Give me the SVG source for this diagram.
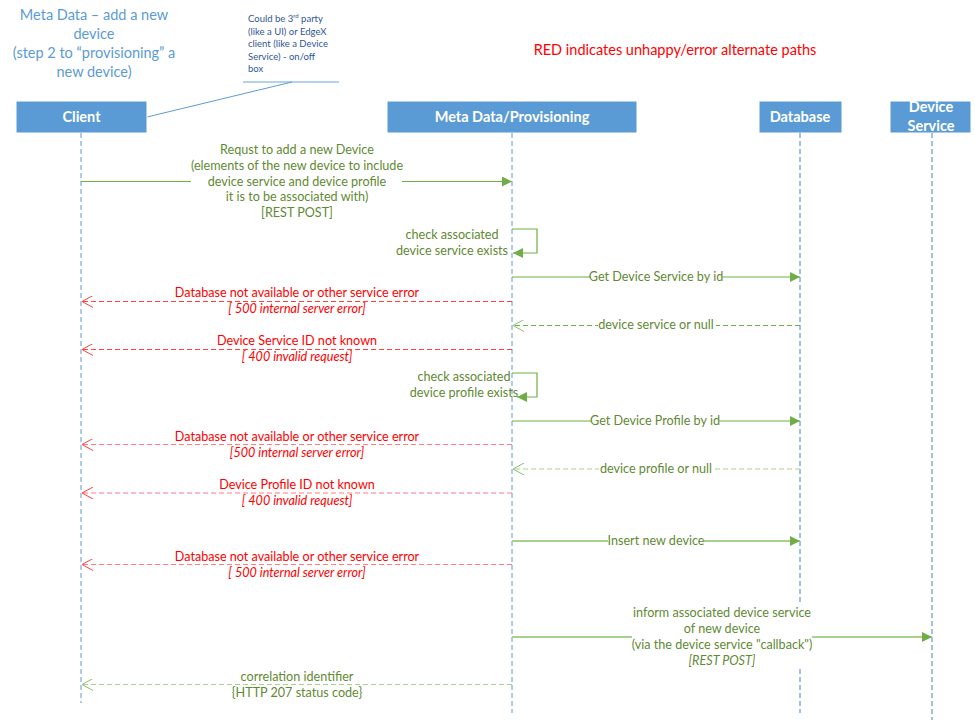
<svg xmlns="http://www.w3.org/2000/svg" width="975" height="721" viewBox="0 0 975 721">
<style>
  text { font-family: Lato, "Liberation Sans", sans-serif; }
  .hdr { fill: #5B9BD5; stroke: #ffffff; stroke-width: 1; }
  .hdrt { fill: #ffffff; font-weight: bold; font-size: 14.5px; text-anchor: middle; }
  .life { stroke: #5B9BD5; stroke-width: 1; stroke-dasharray: 5 3; fill: none; }
  .life2 { stroke: #9DC3E6; stroke-width: 2; stroke-dasharray: 5 3; fill: none; }
  .g { stroke: #70AD47; stroke-width: 1.2; fill: none; }
  .gl { stroke: #A9D18E; stroke-width: 2; fill: none; }
  .gd { stroke: #70AD47; stroke-width: 1; stroke-dasharray: 5 3; fill: none; }
  .gld { stroke: #A9D18E; stroke-width: 1.2; stroke-dasharray: 5 3; fill: none; }
  .rd { stroke: #FF4040; stroke-width: 1; stroke-dasharray: 5 3; fill: none; }
  .rld { stroke: #FF7C80; stroke-width: 1.2; stroke-dasharray: 5 3; fill: none; }
  .gt { fill: #5F8A33; font-size: 12.6px; text-anchor: middle; }
  .rt { fill: #FF0000; font-size: 12.6px; text-anchor: middle; }
  .it { font-style: italic; }
  .bg { fill: #ffffff; }
</style>
<defs>
  <marker id="fg" viewBox="0 0 10 10" refX="10" refY="5" markerWidth="10" markerHeight="10" markerUnits="userSpaceOnUse" orient="auto">
    <path d="M0,0 L10,5 L0,10 z" fill="#70AD47"/>
  </marker>
  <marker id="og" viewBox="0 0 12 12" refX="11" refY="6" markerWidth="12" markerHeight="12" markerUnits="userSpaceOnUse" orient="auto">
    <path d="M0,0 L11,6 L0,12" fill="none" stroke="#8CBF6A" stroke-width="1"/>
  </marker>
  <marker id="or" viewBox="0 0 12 12" refX="11" refY="6" markerWidth="12" markerHeight="12" markerUnits="userSpaceOnUse" orient="auto">
    <path d="M0,0 L11,6 L0,12" fill="none" stroke="#FF4040" stroke-width="1"/>
  </marker>
</defs>

<rect width="975" height="721" fill="#ffffff"/>

<!-- title -->
<g id="title" fill="#5B9BD5" font-size="14.5" text-anchor="middle">
  <text x="94" y="20">Meta Data – add a new</text>
  <text x="94" y="39">device</text>
  <text x="94" y="58">(step 2 to “provisioning” a</text>
  <text x="94" y="77">new device)</text>
</g>

<!-- note -->
<g id="note">
  <g fill="#2F5597" font-size="9.5">
    <text x="248" y="22">Could be 3<tspan font-size="6" dy="-4">rd</tspan><tspan dy="4"> party</tspan></text>
    <text x="248" y="34.5">(like a UI)  or EdgeX</text>
    <text x="248" y="47">client (like a Device</text>
    <text x="248" y="59.5">Service) - on/off</text>
    <text x="248" y="72">box</text>
  </g>
  <line x1="243" y1="82" x2="339" y2="82" stroke="#9DC3E6" stroke-width="1.5"/>
  <line x1="292" y1="82" x2="147" y2="117" stroke="#5B9BD5" stroke-width="1"/>
</g>

<text id="legend" x="675" y="55" fill="#FF0000" font-size="14.5" text-anchor="middle">RED indicates unhappy/error alternate paths</text>

<!-- participants -->
<g id="client">
  <rect class="hdr" x="16" y="101" width="131" height="32"/>
  <text class="hdrt" x="81.5" y="122">Client</text>
</g>
<g id="metadata">
  <rect class="hdr" x="387" y="101" width="250" height="32"/>
  <text class="hdrt" x="512" y="122">Meta Data/Provisioning</text>
</g>
<g id="database">
  <rect class="hdr" x="759" y="101" width="83" height="32"/>
  <text class="hdrt" x="800" y="122">Database</text>
</g>
<g id="deviceservice">
  <rect class="hdr" x="890" y="101" width="81" height="32"/>
  <text class="hdrt" x="931" y="112">Device</text>
  <text class="hdrt" x="931" y="131">Service</text>
</g>

<!-- lifelines -->
<g id="lifelines">
  <line class="life" x1="81" y1="133" x2="81" y2="703"/>
  <line class="life" x1="512" y1="133" x2="512" y2="713"/>
  <line class="life2" x1="800" y1="133" x2="800" y2="713"/>
  <line class="life2" x1="932" y1="133" x2="932" y2="720"/>
</g>

<!-- connectors -->
<g id="connectors">
  <line class="g" x1="81" y1="181.5" x2="512" y2="181.5" marker-end="url(#fg)"/>
  <path class="g" d="M512,229 H537 V253 H513" marker-end="url(#fg)"/>
  <line class="g" x1="512" y1="277" x2="800" y2="277" marker-end="url(#fg)"/>
  <line class="rd" x1="512" y1="301.5" x2="82" y2="301.5" marker-end="url(#or)"/>
  <line class="gd" x1="800" y1="325.5" x2="513" y2="325.5" marker-end="url(#og)"/>
  <line class="rd" x1="512" y1="349.5" x2="82" y2="349.5" marker-end="url(#or)"/>
  <path class="g" d="M512,373 H537 V397 H517" marker-end="url(#fg)"/>
  <line class="g" x1="512" y1="421" x2="800" y2="421" marker-end="url(#fg)"/>
  <line class="rld" x1="512" y1="444.5" x2="82" y2="444.5" marker-end="url(#or)"/>
  <line class="gld" x1="800" y1="469" x2="513" y2="469" marker-end="url(#og)"/>
  <line class="rld" x1="512" y1="493" x2="82" y2="493" marker-end="url(#or)"/>
  <line class="gl" x1="512" y1="541" x2="800" y2="541" marker-end="url(#fg)"/>
  <line class="rld" x1="512" y1="564.5" x2="82" y2="564.5" marker-end="url(#or)"/>
  <line class="gl" x1="512" y1="637" x2="932" y2="637" marker-end="url(#fg)"/>
  <line class="gld" x1="512" y1="684.5" x2="82" y2="684.5" marker-end="url(#og)"/>
</g>

<!-- labels -->
<g id="labels">
  <rect class="bg" x="191" y="142" width="211" height="80"/>
  <text class="gt" x="297" y="154">Requst to add a new Device</text>
  <text class="gt" x="297" y="170">(elements of the new device to include</text>
  <text class="gt" x="297" y="186">device service and device profile</text>
  <text class="gt" x="297" y="201">it is to be associated with)</text>
  <text class="gt" x="297" y="217">[REST POST]</text>

  <text class="gt" x="452" y="239">check associated</text>
  <text class="gt" x="452" y="255">device service exists</text>

  <rect class="bg" x="591" y="270" width="131" height="14"/>
  <text class="gt" x="656" y="281">Get Device Service by id</text>

  <rect class="bg" x="175" y="286" width="244" height="13"/>
  <text class="rt" x="297" y="297">Database not available or other service error</text>
  <text class="rt it" x="297" y="313">[ 500 internal server error]</text>

  <rect class="bg" x="598" y="318" width="118" height="14"/>
  <text class="gt" x="656" y="329">device service or null</text>

  <rect class="bg" x="218" y="334" width="158" height="13"/>
  <text class="rt" x="297" y="345">Device Service ID not known</text>
  <text class="rt it" x="297" y="361">[ 400 invalid request]</text>

  <text class="gt" x="464" y="381">check associated</text>
  <text class="gt" x="464" y="397">device profile exists</text>

  <rect class="bg" x="591" y="414" width="128" height="14"/>
  <text class="gt" x="655" y="425">Get Device Profile by id</text>

  <rect class="bg" x="175" y="430" width="244" height="13"/>
  <text class="rt" x="297" y="441">Database not available or other service error</text>
  <text class="rt it" x="297" y="457">[500 internal server error]</text>

  <rect class="bg" x="599" y="462" width="114" height="14"/>
  <text class="gt" x="656" y="473">device profile or null</text>

  <rect class="bg" x="220" y="478" width="154" height="13"/>
  <text class="rt" x="297" y="489">Device Profile ID not known</text>
  <text class="rt it" x="297" y="505">[ 400 invalid request]</text>

  <rect class="bg" x="608" y="534" width="96" height="14"/>
  <text class="gt" x="656" y="545">Insert new device</text>

  <rect class="bg" x="175" y="550" width="244" height="13"/>
  <text class="rt" x="297" y="561">Database not available or other service error</text>
  <text class="rt it" x="297" y="577">[ 500 internal server error]</text>

  <rect class="bg" x="632" y="604" width="180" height="64"/>
  <text class="gt" x="722" y="617">inform associated device service</text>
  <text class="gt" x="722" y="633">of new device</text>
  <text class="gt" x="722" y="649">(via the device service "callback")</text>
  <text class="gt it" x="722" y="665">[REST POST]</text>

  <rect class="bg" x="232" y="670" width="130" height="13"/>
  <text class="gt" x="297" y="681">correlation identifier</text>
  <text class="gt" x="297" y="697">{HTTP 207 status code}</text>
</g>
</svg>
